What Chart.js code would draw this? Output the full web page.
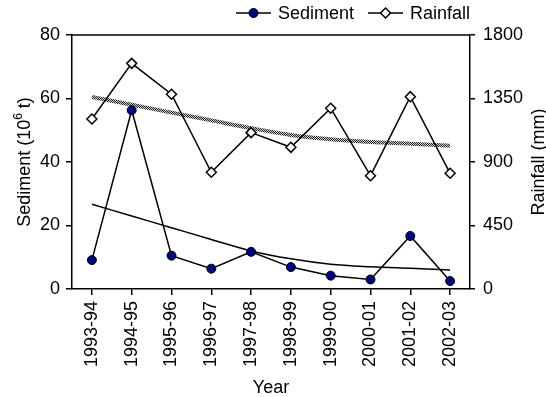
<!DOCTYPE html>
<html>
<head>
<meta charset="utf-8">
<script src="https://cdn.jsdelivr.net/npm/chart.js@4/dist/chart.umd.min.js"></script>
<style>
  html, body { margin: 0; padding: 0; background: #fff; }
</style>
</head>
<body>
<canvas id="chart" width="546" height="397"></canvas>
<script>
const years = ["1993-94", "1994-95", "1995-96", "1996-97", "1997-98", "1998-99", "1999-00", "2000-01", "2001-02", "2002-03"];
const sediment = [9.1, 56.3, 10.5, 6.4, 11.7, 6.9, 4.2, 3.0, 16.7, 2.5];
const rainfall = [1205, 1599, 1380, 827, 1108, 1004, 1281, 803, 1363, 820];
// trend lines
const sedimentTrend = [26.7, 23.0, 19.3, 15.6, 12.0, 9.5, 7.8, 7.0, 6.5, 6.0];
const rainfallTrend = [1361, 1306, 1250, 1195, 1140, 1092, 1061, 1042, 1030, 1016];
const sedimentRange = [0, 80, 20];
const rainfallRange = [0, 1800, 450];

const FONT = "'Liberation Sans', Arial, sans-serif";
Chart.defaults.font.family = FONT;
Chart.defaults.font.size = 18;
Chart.defaults.color = "#000";

// checkered grey for the rainfall trend
function checker() {
  const c = document.createElement("canvas");
  c.width = 2; c.height = 2;
  const g = c.getContext("2d");
  g.fillStyle = "#d0d0d0";
  g.fillRect(0, 0, 2, 2);
  g.fillStyle = "#222";
  g.fillRect(0, 0, 1, 1);
  g.fillRect(1, 1, 1, 1);
  return g.createPattern(c, "repeat");
}

// legend: line with marker through it, like the original
const lineLegend = {
  id: "lineLegend",
  afterDraw(chart) {
    const ctx = chart.ctx;
    const y = 13;
    let x = 236;
    ctx.save();
    ctx.font = "18px " + FONT;
    ctx.textBaseline = "middle";
    chart.data.datasets.forEach((ds) => {
      if (ds.trend) return;
      ctx.strokeStyle = "#000";
      ctx.lineWidth = 1.5;
      ctx.beginPath();
      ctx.moveTo(x, y);
      ctx.lineTo(x + 35, y);
      ctx.stroke();
      ctx.fillStyle = ds.pointBackgroundColor;
      ctx.lineWidth = ds.pointBorderWidth;
      Chart.helpers.drawPoint(ctx, { pointStyle: ds.pointStyle, radius: ds.pointRadius, rotation: 0, borderWidth: ds.pointBorderWidth }, x + 17.5, y);
      ctx.fillStyle = "#000";
      ctx.fillText(ds.label, x + 42, y + 1);
      x += 42 + ctx.measureText(ds.label).width + 14;
    });
    ctx.restore();
  }
};

// plot frame top + both y titles (both read bottom-to-top, one with superscript)
const frameAndTitles = {
  id: "frameAndTitles",
  afterDraw(chart) {
    const { ctx, chartArea } = chart;
    ctx.save();
    ctx.strokeStyle = "#000";
    ctx.lineWidth = 1.5;
    ctx.beginPath();
    ctx.moveTo(chartArea.left, chartArea.top);
    ctx.lineTo(chartArea.right, chartArea.top);
    ctx.stroke();

    const midY = (chartArea.top + chartArea.bottom) / 2;
    ctx.fillStyle = "#000";
    ctx.textBaseline = "alphabetic";

    // left title
    const parts = [["Sediment (10", 18, 0], ["6", 12, -8], [" t)", 18, 0]];
    let w = 0;
    parts.forEach((p) => { ctx.font = p[1] + "px " + FONT; w += ctx.measureText(p[0]).width; });
    ctx.save();
    ctx.translate(23, midY);
    ctx.rotate(-Math.PI / 2);
    let x = -w / 2;
    parts.forEach((p) => {
      ctx.font = p[1] + "px " + FONT;
      ctx.fillText(p[0], x, 6.5 + p[2]);
      x += ctx.measureText(p[0]).width;
    });
    ctx.restore();

    // right title
    ctx.save();
    ctx.translate(537, midY);
    ctx.rotate(-Math.PI / 2);
    ctx.font = "18px " + FONT;
    ctx.textAlign = "center";
    ctx.fillText("Rainfall (mm)", 0, 6.5);
    ctx.restore();

    ctx.restore();
  }
};

new Chart(document.getElementById("chart"), {
  type: "line",
  data: {
    labels: years,
    datasets: [
      {
        label: "Sediment",
        data: sediment,
        yAxisID: "y",
        borderColor: "#000",
        borderWidth: 1.5,
        pointStyle: "circle",
        pointRadius: 4.5,
        pointBorderWidth: 1,
        pointBorderColor: "#000",
        pointBackgroundColor: "#000080",
        order: 1
      },
      {
        label: "Rainfall",
        data: rainfall,
        yAxisID: "y1",
        borderColor: "#000",
        borderWidth: 1.5,
        pointStyle: "rectRot",
        pointRadius: 5,
        pointBorderWidth: 1.5,
        pointBorderColor: "#000",
        pointBackgroundColor: "#fff",
        order: 1
      },
      {
        label: "Sediment trend",
        trend: true,
        data: sedimentTrend,
        yAxisID: "y",
        borderColor: "#000",
        borderWidth: 1.5,
        pointRadius: 0,
        cubicInterpolationMode: "monotone",
        order: 5
      },
      {
        label: "Rainfall trend",
        trend: true,
        data: rainfallTrend,
        yAxisID: "y1",
        borderColor: checker(),
        borderWidth: 4,
        pointRadius: 0,
        cubicInterpolationMode: "monotone",
        order: 5
      }
    ]
  },
  options: {
    responsive: false,
    animation: false,
    layout: { padding: { top: 35, left: 0, right: 0, bottom: 0 } },
    plugins: {
      legend: { display: false },
      tooltip: { enabled: false }
    },
    scales: {
      x: {
        offset: true,
        grid: { drawOnChartArea: false, drawTicks: true, tickLength: 6, color: "#000", lineWidth: 1.5 },
        border: { color: "#000", width: 1.5 },
        ticks: { autoSkip: false, minRotation: 90, maxRotation: 90, padding: 6 },
        title: { display: true, text: "Year", padding: 0, font: { size: 18, lineHeight: 1 } },
        afterFit: (s) => { s.height = 108; }
      },
      y: {
        position: "left",
        min: sedimentRange[0],
        max: sedimentRange[1],
        ticks: { stepSize: sedimentRange[2], padding: 6 },
        grid: { drawOnChartArea: false, tickLength: 6, color: "#000", lineWidth: 1.5 },
        border: { color: "#000", width: 1.5 },
        afterFit: (s) => { s.width = 72; }
      },
      y1: {
        position: "right",
        min: rainfallRange[0],
        max: rainfallRange[1],
        ticks: { stepSize: rainfallRange[2], padding: 8, callback: (v) => String(v) },
        grid: { drawOnChartArea: false, tickLength: 5, color: "#000", lineWidth: 1.5 },
        border: { color: "#000", width: 1.5 },
        afterFit: (s) => { s.width = 76; }
      }
    }
  },
  plugins: [lineLegend, frameAndTitles]
});
</script>
</body>
</html>
